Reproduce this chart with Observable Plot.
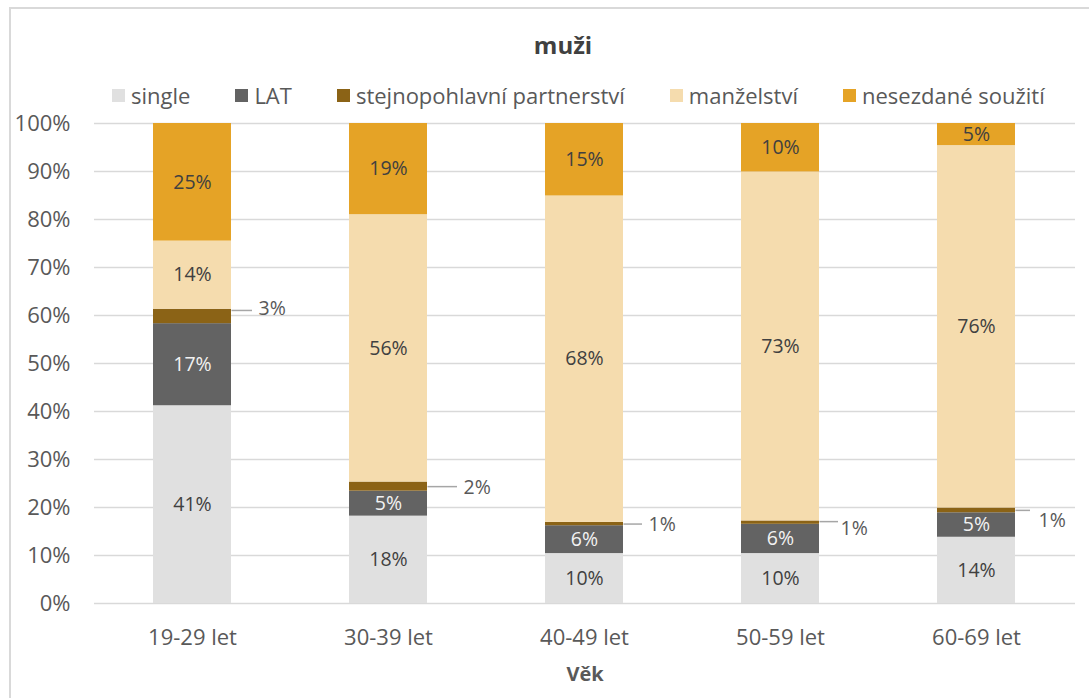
<!DOCTYPE html>
<html><head><meta charset="utf-8">
<script src="https://cdn.jsdelivr.net/npm/d3@7"></script>
<script src="https://cdn.jsdelivr.net/npm/@observablehq/plot@0.6"></script>
<style>
body{margin:0;background:#fff;font-family:"Open Sans",sans-serif;}
#wrap{position:relative;width:1089px;height:698px;overflow:hidden;background:#fff}
#frame{position:absolute;left:9px;top:7px;width:1100px;height:720px;border:2px solid #d9d9d9;box-sizing:border-box}
#title{position:absolute;left:363px;width:400px;top:29px;text-align:center;font-weight:bold;font-size:24px;color:#404040;line-height:32px}
#legend{position:absolute;top:80px;left:112px;width:1000px;display:flex;justify-content:flex-start;gap:45px;font-size:22px;color:#595959;line-height:30px;white-space:nowrap}
#legend .it{display:flex;align-items:center;gap:6px}
#legend .sw{width:13px;height:13px;display:inline-block}
#chart{position:absolute;left:0;top:100px}
#xlabel{position:absolute;left:485px;width:200px;top:660px;text-align:center;font-weight:bold;font-size:20px;color:#595959;line-height:28px}
</style>
</head><body>
<div id="wrap">
  <div id="frame"></div>
  <div id="chart"></div>
  <div id="title">muži</div>
  <div id="legend"></div>
  <div id="xlabel">Věk</div>
</div>
<script>
const ages = ["19-29 let","30-39 let","40-49 let","50-59 let","60-69 let"];
const categories = ["single","LAT","stejnopohlavní partnerství","manželství","nesezdané soužití"];
const single     = [41.2, 18.2, 10.4, 10.4, 13.8];
const lat        = [17.1,  5.2,  5.8,  6.1,  5.1];
const stejno     = [ 3.0,  1.9,  0.7,  0.7,  1.0];
const manzelstvi = [14.2, 55.7, 68.0, 72.7, 75.5];
const nesezdane  = [24.5, 19.0, 15.1, 10.1,  4.6];
const yTicks = [0,10,20,30,40,50,60,70,80,90,100];

const colors = ["#e0e0e0","#636363","#8b6316","#f5dcae","#e5a326"];
// callout styling for the small "stejnopohlavní" segments (pixel offsets)
const calloutStyle = [
  {dx:66, dy:-8, lineDy:-6, len:21},
  {dx:75, dy:1,  lineDy:0,  len:30},
  {dx:64, dy:1,  lineDy:0,  len:19},
  {dx:60, dy:6,  lineDy:-1, len:19},
  {dx:62, dy:10, lineDy:0,  len:15}
];

const series = [single, lat, stejno, manzelstvi, nesezdane];
const rows = ages.flatMap((age,i) => categories.map((cat,j) => ({age, cat, value: series[j][i]})));
const S = categories[2];
const fmt = v => Math.round(v) + "%";

// legend
const lg = document.getElementById("legend");
categories.forEach((c,i) => {
  const it = document.createElement("div"); it.className = "it";
  const sw = document.createElement("span"); sw.className = "sw"; sw.style.background = colors[i];
  const tx = document.createElement("span"); tx.textContent = c;
  it.appendChild(sw); it.appendChild(tx); lg.appendChild(it);
});

const bw = (1089 - 94 - 14) / 5 * 0.4;
const stk = (o) => Plot.stackY({x:"age", y:"value", z:"cat", ...o});

const marks = [
  Plot.gridY(yTicks, {stroke:"#d9d9d9", strokeOpacity:1, strokeWidth:1.5}),
  Plot.barY(rows, {x:"age", y:"value", fill:"cat", z:"cat"}),
  Plot.text(rows, stk({text: d => (d.cat === S || d.cat === "LAT") ? "" : fmt(d.value), fill:"#404040", fontSize:19.5})),
  Plot.text(rows, stk({text: d => d.cat === "LAT" ? fmt(d.value) : "", fill:"#f2f2f2", fontSize:19.5})),
];
ages.forEach((a,i) => {
  const c = calloutStyle[i];
  marks.push(Plot.tickY(rows, {
    ...stk({}),
    stroke: "#a6a6a6",
    strokeWidth: 1.5,
    strokeOpacity: d => (d.age === a && d.cat === S) ? 1 : 0,
    dx: bw, dy: c.lineDy, insetRight: bw - c.len
  }));
  marks.push(Plot.text(rows, {
    ...stk({text: d => (d.age === a && d.cat === S) ? fmt(d.value) : ""}),
    fill:"#595959", fontSize:19.5, textAnchor:"start", dx: c.dx, dy: c.dy
  }));
});

const chart = Plot.plot({
  width: 1089, height: 598,
  marginLeft: 94, marginRight: 14, marginTop: 23, marginBottom: 95,
  style: {fontSize:"22px", fontFamily:'"Open Sans",sans-serif', color:"#595959", background:"transparent"},
  x: {domain: ages, paddingInner: 0.6, paddingOuter: 0.3, tickSize: 0, tickPadding: 26, label: null},
  y: {domain: [0,100], ticks: yTicks, tickFormat: d => d + "%", tickSize: 0, tickPadding: 24, label: null},
  color: {domain: categories, range: colors},
  marks
});
document.getElementById("chart").appendChild(chart);
</script>
</body></html>
